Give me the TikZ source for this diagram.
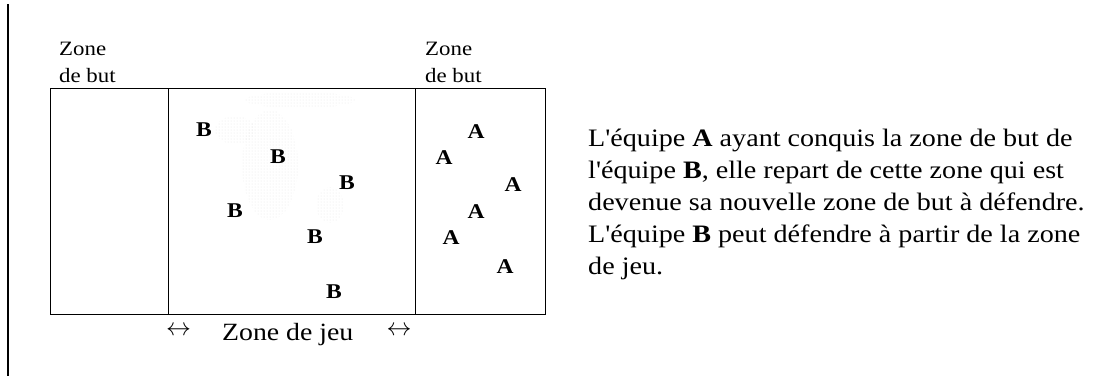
\documentclass[tikz,border=0pt]{standalone}
\usepackage{fontspec}
\setmainfont{Liberation Serif}[FakeStretch=1.12, Ligatures=TeXOff]
\usetikzlibrary{patterns}
\tikzset{
  zonebox/.style={draw, line width=1.2pt, anchor=north west, inner sep=0pt, minimum height=226pt},
  player/.style={font=\fontsize{21}{21}\selectfont\bfseries, inner sep=0pt},
  lbl/.style={font=\fontsize{20.4}{27}\selectfont, inner sep=0pt, anchor=base west},
  txt/.style={font=\fontsize{25.1}{32}\selectfont, inner sep=0pt, anchor=base west},
  speck/.style={pattern=dots, pattern color=gray!22}
}
\begin{document}
\begin{tikzpicture}[x=1pt,y=-1pt]
\useasboundingbox (0,0) rectangle (1119,376);
% faint speckle in the playing zone
\fill[speck] (270,165) ellipse (28 and 55);
\fill[speck] (300,100) ellipse (55 and 8);
\fill[speck] (235,130) ellipse (20 and 14);
\fill[speck] (330,205) ellipse (14 and 18);
% left rule
\coordinate (rt) at (8,4);
\coordinate (rb) at (8,376);
\draw[line width=1.2pt] (rt) -- (rb);
% zones
\node[zonebox, minimum width=118pt] (gl) at (50,88) {};
\node[zonebox, minimum width=247pt] (jeu) at (168,88) {};
\node[zonebox, minimum width=130pt] (gr) at (415,88) {};
% labels
\node[lbl] (zl1) at (59,55) {Zone};
\node[lbl] (zl2) at (59,82) {de but};
\node[lbl] (zr1) at (425,55) {Zone};
\node[lbl] (zr2) at (425,82) {de but};
\node[font=\fontsize{24.8}{30}\selectfont, inner sep=0pt, anchor=base west] (zj) at (222,340) {Zone de jeu};
\node[inner sep=0pt, font=\fontsize{26}{26}\selectfont] (al) at (178.5,331) {$\leftrightarrow$};
\node[inner sep=0pt, font=\fontsize{26}{26}\selectfont] (ar) at (399,331) {$\leftrightarrow$};
% team B
\node[player] (b1) at (204,130) {B};
\node[player] (b2) at (278,157) {B};
\node[player] (b3) at (347,183) {B};
\node[player] (b4) at (235,211) {B};
\node[player] (b5) at (315,237) {B};
\node[player] (b6) at (334,292) {B};
% team A
\node[player] (a1) at (476,132) {A};
\node[player] (a2) at (444,158) {A};
\node[player] (a3) at (513,185) {A};
\node[player] (a4) at (476,212) {A};
\node[player] (a5) at (451,238) {A};
\node[player] (a6) at (505,267) {A};
% explanation
\node[txt] (t1) at (588,146.5) {L'équipe \textbf{A} ayant conquis la zone de but de};
\node[txt] (t2) at (588,178.5) {l'équipe \textbf{B}, elle repart de cette zone qui est};
\node[txt] (t3) at (588,210.5) {devenue sa nouvelle zone de but à défendre.};
\node[txt] (t4) at (588,242.5) {L'équipe \textbf{B} peut défendre à partir de la zone};
\node[txt] (t5) at (588,274.5) {de jeu.};
\end{tikzpicture}
\end{document}
